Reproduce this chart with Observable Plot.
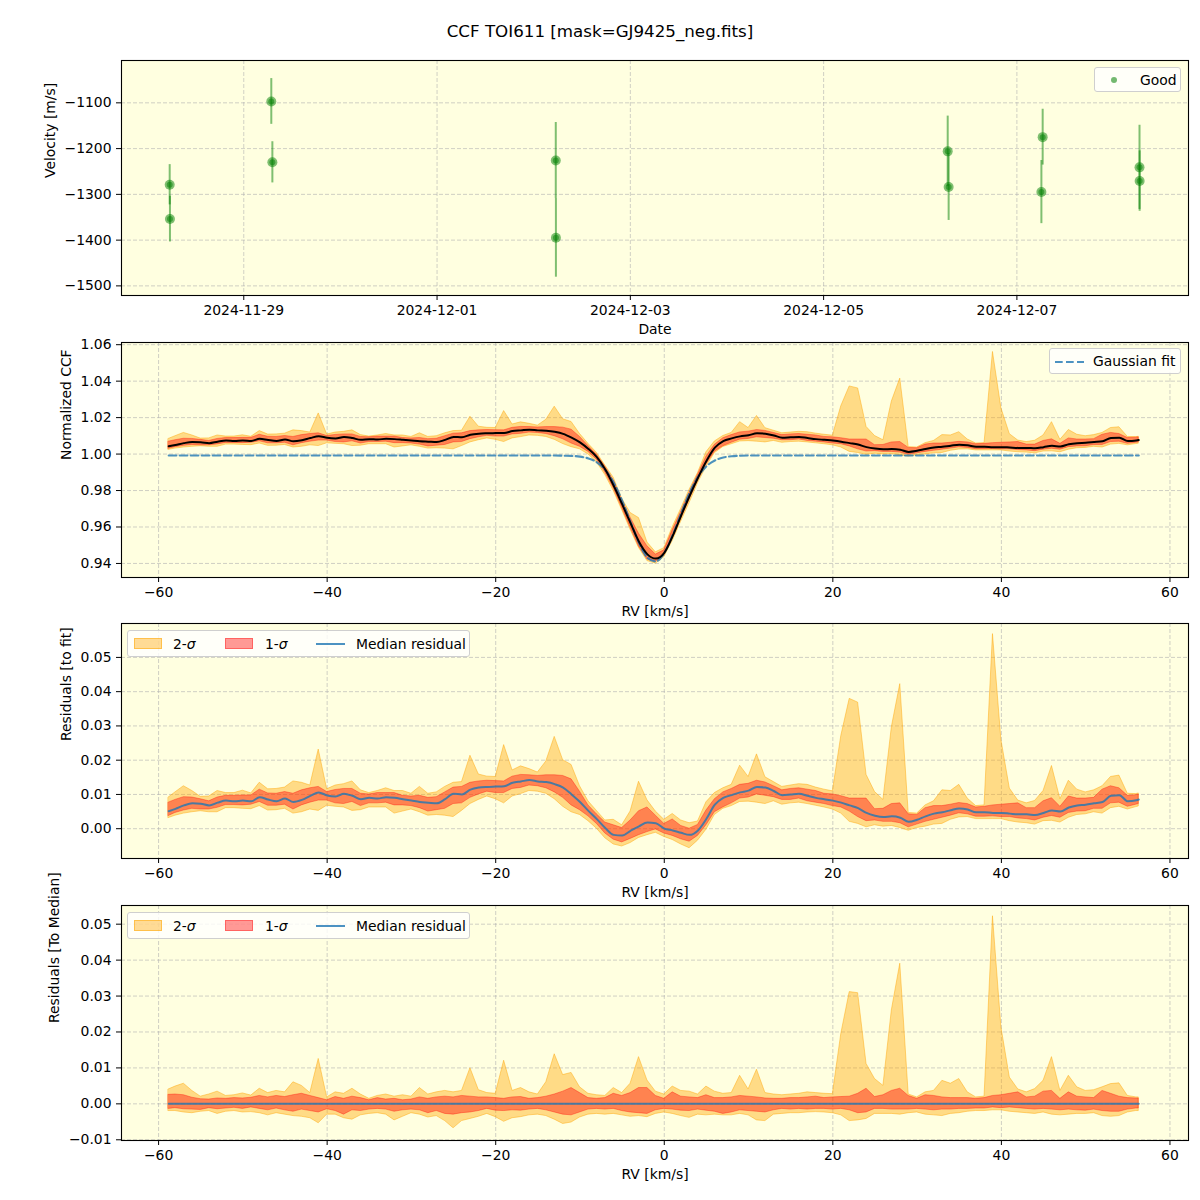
<!DOCTYPE html>
<html>
<head>
<meta charset="utf-8">
<script src="https://cdn.jsdelivr.net/npm/d3@7"></script>
<script src="https://cdn.jsdelivr.net/npm/@observablehq/plot@0.6"></script>
<style>
  html, body { margin: 0; padding: 0; background: #ffffff; }
  #wrap { position: relative; width: 1200px; height: 1200px; font-family: "DejaVu Sans", sans-serif; color: #000; }
  .panel { position: absolute; left: 0; }
  .title { position: absolute; left: 0; top: 21px; width: 1200px; text-align: center; font-size: 16.7px; }
  .legend { position: absolute; box-sizing: border-box; background: rgba(255,255,255,0.8); border: 1px solid #cfcfcf; border-radius: 3px; font-size: 13.9px; }
  .legend .it { position: absolute; top: 0; bottom: 0; display: flex; align-items: center; white-space: nowrap; }
  .legend .sw { position: absolute; box-sizing: border-box; }
  .legend svg { position: absolute; overflow: visible; }
</style>
</head>
<body>
<div id="wrap">
  <div class="title">CCF TOI611 [mask=GJ9425_neg.fits]</div>
</div>
<script>
// ---------- Panel 1: RV time series ----------
const obsTimes = ["2024-11-28T05:36:00Z", "2024-11-28T05:40:00Z", "2024-11-29T06:50:00Z", "2024-11-29T07:06:00Z",
                  "2024-12-02T05:29:00Z", "2024-12-02T05:31:00Z", "2024-12-06T06:49:00Z", "2024-12-06T07:03:00Z",
                  "2024-12-07T06:24:00Z", "2024-12-07T06:05:00Z", "2024-12-08T06:27:00Z", "2024-12-08T06:29:00Z"];
const velocity = [-1279, -1354, -1097, -1230, -1226, -1395, -1206, -1284, -1175, -1295, -1241, -1271];
const velErr   = [44, 50, 50, 45, 83, 86, 77, 73, 61, 69, 92, 66];
const dateTicks = ["2024-11-29", "2024-12-01", "2024-12-03", "2024-12-05", "2024-12-07"];
const velTicks = [-1500, -1400, -1300, -1200, -1100];

// ---------- CCF profile (shared RV grid) ----------
const rv = [-58.8, -58, -57, -56, -55, -54, -53, -52, -51, -50,
  -49, -48, -47, -46, -45, -44, -43, -42, -41, -40,
  -39, -38, -37, -36, -35, -34, -33, -32, -31, -30,
  -29, -28, -27, -26, -25, -24, -23, -22, -21, -20,
  -19, -18, -17, -16, -15, -14, -13, -12, -11, -10,
  -9, -8, -7, -6, -5, -4, -3, -2, -1, 0,
  1, 2, 3, 4, 5, 6, 7, 8, 9, 10,
  11, 12, 13, 14, 15, 16, 17, 18, 19, 20,
  21, 22, 23, 24, 25, 26, 27, 28, 29, 30,
  31, 32, 33, 34, 35, 36, 37, 38, 39, 40,
  41, 42, 43, 44, 45, 46, 47, 48, 49, 50,
  51, 52, 53, 54, 55, 56, 56.3];

// Gaussian fit
const gaussFit = [0.9992, 0.9992, 0.9992, 0.9992, 0.9992, 0.9992, 0.9992, 0.9992, 0.9992, 0.9992,
  0.9992, 0.9992, 0.9992, 0.9992, 0.9992, 0.9992, 0.9992, 0.9992, 0.9992, 0.9992,
  0.9992, 0.9992, 0.9992, 0.9992, 0.9992, 0.9992, 0.9992, 0.9992, 0.9992, 0.9992,
  0.9992, 0.9992, 0.9992, 0.9992, 0.9992, 0.9992, 0.9992, 0.9992, 0.9992, 0.9992,
  0.9992, 0.9992, 0.9992, 0.9992, 0.9992, 0.9992, 0.9992, 0.9991, 0.9990, 0.9986,
  0.9976, 0.9955, 0.9913, 0.9844, 0.9745, 0.9627, 0.9512, 0.9432, 0.9411, 0.9458,
  0.9556, 0.9675, 0.9788, 0.9875, 0.9933, 0.9965, 0.9981, 0.9988, 0.9991, 0.9992,
  0.9992, 0.9992, 0.9992, 0.9992, 0.9992, 0.9992, 0.9992, 0.9992, 0.9992, 0.9992,
  0.9992, 0.9992, 0.9992, 0.9992, 0.9992, 0.9992, 0.9992, 0.9992, 0.9992, 0.9992,
  0.9992, 0.9992, 0.9992, 0.9992, 0.9992, 0.9992, 0.9992, 0.9992, 0.9992, 0.9992,
  0.9992, 0.9992, 0.9992, 0.9992, 0.9992, 0.9992, 0.9992, 0.9992, 0.9992, 0.9992,
  0.9992, 0.9992, 0.9992, 0.9992, 0.9992, 0.9992, 0.9992];

// Median residual to fit, in units of 1e-3
const medianResidE3 = [5.1, 5.8, 6.8, 7.4, 7.3, 6.8, 7.6, 8.2, 8.0, 8.2,
  8.0, 9.2, 8.5, 8.0, 8.8, 7.8, 8.4, 9.6, 10.6, 9.7,
  9.4, 10.2, 9.6, 8.6, 9.0, 8.8, 9.2, 9.0, 8.6, 8.2,
  7.8, 7.6, 7.4, 8.6, 10.2, 10.0, 11.4, 12.0, 12.2, 12.3,
  12.4, 13.4, 13.8, 14.2, 13.8, 13.6, 13.0, 12.0, 10.0, 7.8,
  5.2, 2.8, 0.2, -1.8, -2.0, -0.6, 0.7, 1.8, 1.6, 0.0,
  -0.5, -1.2, -1.8, -0.5, 2.9, 7.0, 9.0, 9.8, 10.6, 11.1,
  12.2, 12.0, 11.0, 9.8, 10.0, 10.2, 9.6, 9.0, 8.6, 8.2,
  7.6, 6.8, 6.0, 4.6, 3.8, 3.4, 3.6, 3.2, 2.0, 2.6,
  3.6, 4.4, 4.8, 5.4, 5.9, 5.6, 4.8, 4.8, 4.6, 4.6,
  4.4, 4.2, 4.2, 4.0, 4.6, 5.3, 5.0, 6.2, 6.8, 7.0,
  7.4, 7.8, 9.6, 9.8, 8.0, 8.3, 8.5];

// Band edges relative to the median, in units of 1e-3
const sig2HiE3 = [4.0, 4.8, 5.6, 3.6, 2.0, 2.6, 3.4, 2.2, 2.4, 2.9,
  2.3, 4.2, 3.0, 3.6, 3.2, 6.0, 5.0, 3.0, 12.5, 1.8,
  3.2, 2.8, 4.2, 2.6, 1.4, 2.2, 2.6, 2.0, 2.4, 2.0,
  4.4, 2.6, 3.2, 3.6, 3.2, 3.6, 9.9, 3.8, 3.0, 2.8,
  12.0, 3.6, 4.4, 3.2, 2.6, 6.0, 13.8, 8.0, 8.6, 4.6,
  2.8, 2.4, 2.2, 4.4, 3.0, 5.6, 13.0, 6.5, 3.4, 2.6,
  4.8, 3.6, 3.4, 2.6, 4.8, 3.4, 2.8, 3.0, 7.8, 4.0,
  9.5, 3.0, 2.6, 2.4, 2.6, 2.8, 3.2, 3.0, 2.8, 2.7,
  19.4, 31.1, 30.8, 11.1, 6.9, 5.0, 26.0, 39.0, 2.6, 1.8,
  3.2, 3.6, 6.4, 5.6, 6.9, 3.2, 1.8, 2.0, 52.2, 21.3,
  7.3, 4.0, 3.2, 4.1, 6.4, 13.0, 3.6, 7.8, 4.6, 3.6,
  3.8, 4.6, 5.5, 5.7, 2.2, 1.8, 1.8];
const sig1HiE3 = [2.5, 2.6, 2.4, 1.7, 1.3, 1.2, 1.5, 1.4, 1.6, 1.5,
  1.7, 2.2, 1.8, 2.2, 1.9, 2.4, 2.8, 2.2, 1.6, 1.0,
  1.9, 1.4, 2.0, 1.6, 1.0, 1.6, 1.2, 1.4, 1.0, 1.2,
  1.8, 1.4, 1.8, 2.0, 1.8, 2.2, 2.0, 1.8, 1.8, 1.6,
  1.4, 1.8, 1.9, 1.4, 1.6, 2.0, 2.6, 3.4, 4.4, 3.0,
  1.6, 1.4, 1.6, 2.8, 2.2, 3.0, 4.4, 4.4, 2.2, 1.4,
  3.2, 2.0, 1.8, 1.6, 2.4, 1.6, 1.6, 1.8, 2.2, 2.0,
  1.8, 1.5, 1.4, 1.4, 1.6, 1.6, 1.8, 2.0, 1.6, 1.8,
  1.9, 2.0, 2.8, 4.2, 1.9, 2.4, 3.6, 4.2, 2.2, 1.4,
  2.4, 2.2, 1.8, 1.6, 1.6, 1.6, 1.4, 1.6, 2.2, 2.4,
  2.8, 3.2, 1.8, 2.0, 3.4, 3.6, 1.4, 3.2, 2.0, 1.8,
  1.6, 3.6, 2.8, 2.0, 1.6, 1.5, 1.5];
const sig1LoE3 = [-1.4, -1.2, -1.5, -1.6, -1.7, -1.2, -1.5, -1.3, -1.1, -1.4,
  -1.0, -1.4, -1.8, -1.3, -1.8, -2.2, -1.6, -2.0, -2.4, -1.5,
  -2.0, -3.0, -1.8, -2.0, -1.6, -1.4, -1.6, -2.2, -1.8, -1.6,
  -1.8, -2.6, -2.0, -2.8, -3.0, -2.6, -2.4, -2.0, -1.4, -1.9,
  -2.0, -1.8, -1.9, -1.6, -1.4, -1.8, -2.4, -3.0, -3.2, -2.4,
  -1.6, -1.4, -1.6, -1.4, -2.0, -2.4, -2.6, -2.8, -1.8, -1.4,
  -1.6, -1.9, -2.0, -1.6, -1.9, -2.2, -2.8, -2.4, -1.8, -2.0,
  -2.2, -2.4, -1.8, -1.4, -1.6, -1.4, -1.6, -1.4, -1.4, -1.6,
  -1.4, -1.8, -2.6, -2.4, -1.4, -1.4, -1.6, -1.6, -1.6, -1.4,
  -1.6, -1.8, -1.6, -1.6, -1.4, -1.4, -1.3, -1.3, -1.0, -1.2,
  -1.0, -1.2, -1.4, -1.6, -1.4, -1.6, -1.8, -1.6, -1.8, -1.9,
  -1.6, -2.0, -2.2, -2.2, -1.6, -1.3, -1.3];
const sig2LoE3 = [-2.0, -2.0, -2.4, -2.6, -2.2, -2.0, -2.8, -2.2, -2.0, -2.4,
  -2.3, -2.6, -3.2, -2.6, -3.0, -3.4, -3.6, -4.0, -5.4, -3.0,
  -3.0, -4.0, -4.4, -3.2, -2.8, -2.6, -3.0, -4.6, -3.6, -2.6,
  -3.0, -3.8, -3.4, -4.8, -6.8, -4.8, -4.2, -3.6, -2.8, -3.7,
  -5.0, -4.0, -3.7, -3.2, -3.0, -3.4, -4.4, -5.6, -5.2, -3.8,
  -3.0, -2.8, -3.0, -2.8, -3.2, -3.6, -3.4, -3.7, -2.8, -2.4,
  -2.8, -3.4, -3.9, -3.0, -3.2, -3.0, -3.2, -3.2, -2.8, -3.2,
  -4.6, -4.8, -3.0, -2.8, -2.6, -2.6, -2.4, -2.3, -2.4, -2.6,
  -3.2, -4.8, -4.6, -4.2, -2.8, -2.8, -2.8, -3.0, -2.6, -2.4,
  -3.0, -3.2, -3.4, -2.8, -2.6, -2.2, -2.0, -2.0, -1.8, -1.8,
  -2.2, -2.4, -2.6, -2.8, -2.4, -3.0, -3.2, -3.0, -2.8, -2.8,
  -2.6, -3.4, -3.6, -3.4, -2.4, -2.0, -2.0];

const rvTicks = [-60, -40, -20, 0, 20, 40, 60];
const ccfTicks = [0.94, 0.96, 0.98, 1.00, 1.02, 1.04, 1.06];
const resTicks = [0.00, 0.01, 0.02, 0.03, 0.04, 0.05];
const medTicks = [-0.01, 0.00, 0.01, 0.02, 0.03, 0.04, 0.05];

// ---------- build tables ----------
const points = obsTimes.map((t, i) => ({t: new Date(t), v: velocity[i], e: velErr[i]}));
const table = rv.map((r, i) => {
  const res = medianResidE3[i] / 1000;
  const fit = gaussFit[i];
  const ccf = fit + res;
  const h2 = sig2HiE3[i] / 1000, h1 = sig1HiE3[i] / 1000, l1 = sig1LoE3[i] / 1000, l2 = sig2LoE3[i] / 1000;
  return {
    rv: r, fit, ccf, res, zero: res - res,
    c2lo: ccf + l2, c2hi: ccf + h2, c1lo: ccf + l1, c1hi: ccf + h1,
    r2lo: res + l2, r2hi: res + h2, r1lo: res + l1, r1hi: res + h1,
    m2lo: l2, m2hi: h2, m1lo: l1, m1hi: h1
  };
});

// ---------- styling helpers ----------
const BG = "#ffffe0";
const minus = (s) => s.replace("-", "\u2212");
const fmt = (digits) => (d) => minus(d.toFixed(digits));
const grid = {stroke: "#b0b0b0", strokeOpacity: 0.75, strokeDasharray: "4,2", strokeWidth: 0.8};
const axisOpts = {tickSize: 5, tickPadding: 5, label: null, fontSize: 13.9};
const base = {
  width: 1200, height: 282, marginLeft: 121, marginRight: 12, marginTop: 8, marginBottom: 39,
  style: {fontFamily: '"DejaVu Sans", sans-serif', fontSize: "13.9px", background: "transparent", color: "black", overflow: "visible"}
};
const ylabel = (txt, dx) => Plot.text([txt], {frameAnchor: "left", dx: -dx, rotate: -90, text: (d) => d, fontSize: 13.9});
const xlabel = (txt) => Plot.text([txt], {frameAnchor: "bottom", dy: 38, text: (d) => d, fontSize: 13.9});
const rvScale = {type: "linear", domain: [-64.4, 62.2]};

function bands(y2lo, y2hi, y1lo, y1hi) {
  return [
    Plot.areaY(table, {x: "rv", y1: y2lo, y2: y2hi, fill: "orange", fillOpacity: 0.4, stroke: "orange", strokeOpacity: 0.45, strokeWidth: 1}),
    Plot.areaY(table, {x: "rv", y1: y1lo, y2: y1hi, fill: "red", fillOpacity: 0.4, stroke: "red", strokeOpacity: 0.35, strokeWidth: 1})
  ];
}

const wrap = document.getElementById("wrap");
function place(svg, top) {
  svg.classList.add("panel");
  svg.style.top = top + "px";
  wrap.appendChild(svg);
}

// Panel 1
place(Plot.plot({
  ...base,
  x: {type: "utc", domain: [new Date("2024-11-27T17:38:00Z"), new Date("2024-12-08T18:37:00Z")]},
  y: {domain: [-1521, -1007.5]},
  marks: [
    Plot.frame({fill: BG}),
    Plot.gridX({ticks: dateTicks.map((d) => new Date(d + "T00:00:00Z")), ...grid}),
    Plot.gridY({ticks: velTicks, ...grid}),
    Plot.ruleX(points, {x: "t", y1: (d) => d.v - d.e, y2: (d) => d.v + d.e, stroke: "green", strokeOpacity: 0.5, strokeWidth: 2}),
    Plot.dot(points, {x: "t", y: "v", r: 5, fill: "green", fillOpacity: 0.5}),
    Plot.dot(points, {x: "t", y: "v", r: 3, fill: "green", fillOpacity: 0.5}),
    Plot.axisX({...axisOpts, ticks: dateTicks.map((d) => new Date(d + "T00:00:00Z")), tickFormat: d3.utcFormat("%Y-%m-%d")}),
    Plot.axisY({...axisOpts, ticks: velTicks, tickFormat: fmt(0)}),
    ylabel("Velocity [m/s]", 71),
    xlabel("Date"),
    Plot.frame({stroke: "black", strokeWidth: 1.1})
  ]
}), 52);

// Panel 2
place(Plot.plot({
  ...base,
  x: rvScale,
  y: {domain: [0.9323, 1.0612]},
  marks: [
    Plot.frame({fill: BG}),
    Plot.gridX({ticks: rvTicks, ...grid}),
    Plot.gridY({ticks: ccfTicks, ...grid}),
    ...bands("c2lo", "c2hi", "c1lo", "c1hi"),
    Plot.lineY(table, {x: "rv", y: "fit", stroke: "#1f77b4", strokeOpacity: 0.8, strokeWidth: 2.1, strokeDasharray: "7.7,3.3", curve: "monotone-x"}),
    Plot.lineY(table, {x: "rv", y: "ccf", stroke: "black", strokeWidth: 2, curve: "monotone-x"}),
    Plot.axisX({...axisOpts, ticks: rvTicks, tickFormat: fmt(0)}),
    Plot.axisY({...axisOpts, ticks: ccfTicks, tickFormat: fmt(2)}),
    ylabel("Normalized CCF", 55),
    xlabel("RV [km/s]"),
    Plot.frame({stroke: "black", strokeWidth: 1.1})
  ]
}), 334);

// Panel 3
place(Plot.plot({
  ...base,
  x: rvScale,
  y: {domain: [-0.0087, 0.0599]},
  marks: [
    Plot.frame({fill: BG}),
    Plot.gridX({ticks: rvTicks, ...grid}),
    Plot.gridY({ticks: resTicks, ...grid}),
    ...bands("r2lo", "r2hi", "r1lo", "r1hi"),
    Plot.lineY(table, {x: "rv", y: "res", stroke: "#1f77b4", strokeOpacity: 0.8, strokeWidth: 2, curve: "monotone-x"}),
    Plot.axisX({...axisOpts, ticks: rvTicks, tickFormat: fmt(0)}),
    Plot.axisY({...axisOpts, ticks: resTicks, tickFormat: fmt(2)}),
    ylabel("Residuals [to fit]", 55),
    xlabel("RV [km/s]"),
    Plot.frame({stroke: "black", strokeWidth: 1.1})
  ]
}), 615);

// Panel 4
place(Plot.plot({
  ...base,
  x: rvScale,
  y: {domain: [-0.0102, 0.0552]},
  marks: [
    Plot.frame({fill: BG}),
    Plot.gridX({ticks: rvTicks, ...grid}),
    Plot.gridY({ticks: medTicks, ...grid}),
    ...bands("m2lo", "m2hi", "m1lo", "m1hi"),
    Plot.lineY(table, {x: "rv", y: "zero", stroke: "#1f77b4", strokeOpacity: 0.8, strokeWidth: 2}),
    Plot.axisX({...axisOpts, ticks: rvTicks, tickFormat: fmt(0)}),
    Plot.axisY({...axisOpts, ticks: medTicks, tickFormat: fmt(2)}),
    ylabel("Residuals [To Median]", 67),
    xlabel("RV [km/s]"),
    Plot.frame({stroke: "black", strokeWidth: 1.1})
  ]
}), 897);

// ---------- legends (HTML, placed over the panels) ----------
function legend(left, top, w, h, html) {
  const div = document.createElement("div");
  div.className = "legend";
  Object.assign(div.style, {left: left + "px", top: top + "px", width: w + "px", height: h + "px"});
  div.innerHTML = html;
  wrap.appendChild(div);
}
legend(1094, 67, 87, 25,
  '<span class="sw" style="left:16px;top:9px;width:6px;height:6px;border-radius:50%;background:rgba(0,128,0,0.55)"></span>' +
  '<span class="it" style="left:45px">Good</span>');
legend(1049, 348, 132, 26,
  '<svg style="left:5px;top:12px" width="29" height="2"><line x1="0" y1="1" x2="29" y2="1" stroke="#1f77b4" stroke-opacity="0.8" stroke-width="2.1" stroke-dasharray="7.7,3.3"/></svg>' +
  '<span class="it" style="left:43px">Gaussian fit</span>');
const sigLegend =
  '<span class="sw" style="left:6px;top:7px;width:28px;height:11px;background:rgba(255,165,0,0.4);border:1px solid rgba(255,165,0,0.5)"></span>' +
  '<span class="it" style="left:45px">2-<i>σ</i></span>' +
  '<span class="sw" style="left:97px;top:7px;width:28px;height:11px;background:rgba(255,0,0,0.4);border:1px solid rgba(255,0,0,0.35)"></span>' +
  '<span class="it" style="left:137px">1-<i>σ</i></span>' +
  '<svg style="left:188px;top:12px" width="29" height="2"><line x1="0" y1="1" x2="29" y2="1" stroke="#1f77b4" stroke-opacity="0.8" stroke-width="2"/></svg>' +
  '<span class="it" style="left:228px">Median residual</span>';
legend(127, 630, 343, 27, sigLegend);
legend(127, 912, 343, 27, sigLegend);
</script>
</body>
</html>
